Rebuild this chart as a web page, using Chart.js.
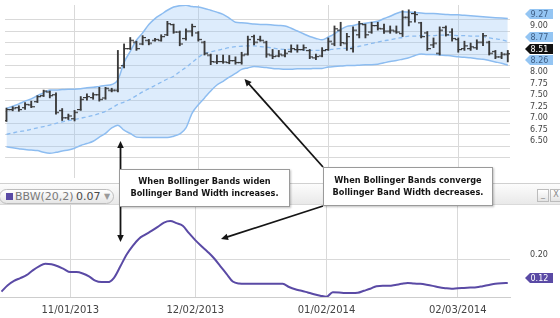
<!DOCTYPE html>
<html><head><meta charset="utf-8">
<script src="https://cdn.jsdelivr.net/npm/chart.js@4.4.0/dist/chart.umd.min.js"></script>
<style>
html,body{margin:0;padding:0;background:#fff;width:560px;height:318px;overflow:hidden;font-family:"DejaVu Sans",sans-serif;}
#topWrap{position:absolute;left:0;top:0;width:560px;height:183px;}
#botWrap{position:absolute;left:0;top:205px;width:560px;height:113px;}
#strip{position:absolute;left:0;top:183px;width:560px;background:linear-gradient(#fcfcfc,#e9e9e9);border-top:1px solid #d0d0d0;border-bottom:1px solid #dadada;box-sizing:border-box;height:22px;}
#pill{position:absolute;left:-1px;top:5px;width:113px;height:13px;border:1px solid #bdbdbd;border-radius:8px;background:linear-gradient(#ffffff,#e6e6e6);font-size:11px;line-height:13px;white-space:nowrap;}
#pill .sq{position:absolute;left:6px;top:3px;width:7px;height:7px;background:#5a4aa5;}
#pill .nm{position:absolute;left:15px;top:0;color:#7a7a7a;}
#pill .val{position:absolute;left:76px;top:0;color:#4a4a4a;}
#pill .dd{position:absolute;left:104px;top:0;color:#9a9a9a;font-size:8px;}
.btn{position:absolute;top:5px;width:10px;height:11px;border:1px solid #bcbcbc;background:linear-gradient(#fff,#e4e4e4);font-size:8px;line-height:10px;text-align:center;color:#888;}
.note{position:absolute;background:#fff;border:1px solid #9a9a9a;box-shadow:1px 1px 2px rgba(0,0,0,0.25);font-family:"DejaVu Sans",sans-serif;font-weight:bold;font-size:8.2px;line-height:12.5px;text-align:center;color:#151515;box-sizing:border-box;z-index:4;}
#arrows{position:absolute;left:0;top:0;z-index:6;}
</style>
</head><body>
<div id="topWrap"><canvas id="top" width="560" height="183"></canvas></div>
<div id="strip">
  <div id="pill"><span class="sq"></span><span class="nm">BBW(20,2)</span><span class="val">0.07</span><span class="dd">▼</span></div>
  <div class="btn" style="left:537px">_</div>
  <div class="btn" style="left:550px">X</div>
</div>
<div id="botWrap"><canvas id="bot" width="560" height="113"></canvas></div>
<div class="note" style="left:119px;top:169px;width:171px;height:38px;padding-top:4.5px;">When Bollinger Bands widen<br>Bollinger Band Width increases.</div>
<div class="note" style="left:323px;top:167px;width:170px;height:39px;padding-top:5.5px;">When Bollinger Bands converge<br>Bollinger Band Width decreases.</div>
<svg id="arrows" width="560" height="318"></svg>
<script>
// ---------- DATA ----------
const tradingDays = [
 '10/17/2013','10/18/2013','10/21/2013','10/22/2013','10/23/2013','10/24/2013','10/25/2013','10/28/2013','10/29/2013','10/30/2013','10/31/2013',
 '11/01/2013','11/04/2013','11/05/2013','11/06/2013','11/07/2013','11/08/2013','11/11/2013','11/12/2013','11/13/2013','11/14/2013','11/15/2013','11/18/2013','11/19/2013','11/20/2013','11/21/2013','11/22/2013','11/25/2013','11/26/2013','11/27/2013','11/29/2013',
 '12/02/2013','12/03/2013','12/04/2013','12/05/2013','12/06/2013','12/09/2013','12/10/2013','12/11/2013','12/12/2013','12/13/2013','12/16/2013','12/17/2013','12/18/2013','12/19/2013','12/20/2013','12/23/2013','12/24/2013','12/26/2013','12/27/2013','12/30/2013','12/31/2013',
 '01/02/2014','01/03/2014','01/06/2014','01/07/2014','01/08/2014','01/09/2014','01/10/2014','01/13/2014','01/14/2014','01/15/2014','01/16/2014','01/17/2014','01/21/2014','01/22/2014','01/23/2014','01/24/2014','01/27/2014','01/28/2014','01/29/2014','01/30/2014','01/31/2014',
 '02/03/2014','02/04/2014','02/05/2014','02/06/2014','02/07/2014','02/10/2014','02/11/2014','02/12/2014','02/13/2014'
];
const tickDates = ['11/01/2013','12/02/2013','01/02/2014','02/03/2014'];
const priceTicks = [6.25,6.50,6.75,7.00,7.25,7.50,7.75,8.00,8.25,8.50,8.75,9.00,9.25];
const bbwTicks = [0.20];

const opens = [7.06,7.30,7.34,7.34,7.40,7.47,7.60,7.68,7.62,7.28,7.12,7.10,7.30,7.56,7.56,7.62,7.55,7.72,7.72,8.25,
 8.62,8.76,8.72,8.80,8.80,8.80,8.92,9.14,8.98,8.84,9.00,8.96,8.76,8.48,8.33,8.34,8.32,8.36,8.32,8.50,
 8.88,8.82,8.76,8.48,8.46,8.48,8.56,8.60,8.60,8.58,8.42,8.46,8.60,8.72,9.02,8.74,8.62,8.92,9.14,8.98,
 9.12,9.05,9.00,9.00,8.95,9.30,9.38,9.18,8.96,8.70,8.52,9.08,8.98,8.82,8.62,8.62,8.64,8.76,8.76,8.56,8.44,8.50];
const highs = [7.33,7.36,7.38,7.45,7.48,7.60,7.72,7.70,7.66,7.32,7.20,7.28,7.58,7.64,7.66,7.78,7.78,7.76,8.58,8.72,
 8.86,8.78,8.90,8.82,8.84,8.92,9.21,9.15,9.00,9.05,9.15,8.99,8.78,8.50,8.48,8.48,8.47,8.44,8.54,8.89,
 8.91,8.89,8.78,8.60,8.58,8.60,8.70,8.70,8.70,8.60,8.50,8.64,8.85,9.11,9.19,8.95,9.09,9.21,9.15,9.19,
 9.19,9.15,9.11,9.11,9.44,9.46,9.42,9.19,8.99,8.85,9.09,9.11,9.05,8.85,8.78,8.74,8.81,8.95,8.78,8.58,8.54,8.58];
const lows = [7.04,7.27,7.26,7.30,7.34,7.45,7.58,7.55,7.20,7.06,7.08,7.05,7.28,7.50,7.52,7.48,7.52,7.68,7.68,8.20,
 8.60,8.58,8.70,8.70,8.78,8.78,8.90,8.95,8.68,8.80,8.89,8.78,8.48,8.27,8.29,8.30,8.29,8.28,8.28,8.48,
 8.70,8.78,8.43,8.40,8.44,8.44,8.54,8.54,8.58,8.40,8.38,8.44,8.58,8.68,8.68,8.58,8.54,8.85,8.85,8.95,
 9.02,8.95,8.95,8.95,8.88,9.11,9.19,8.85,8.58,8.64,8.48,8.89,8.78,8.54,8.58,8.58,8.60,8.68,8.48,8.40,8.40,8.33];
const closes = [7.30,7.33,7.30,7.41,7.36,7.58,7.70,7.60,7.24,7.12,7.16,7.24,7.52,7.58,7.62,7.52,7.76,7.72,8.20,8.62,
 8.80,8.62,8.86,8.74,8.82,8.88,9.16,8.98,8.72,9.00,9.10,8.82,8.52,8.34,8.34,8.33,8.36,8.32,8.48,8.82,
 8.76,8.80,8.50,8.45,8.50,8.52,8.62,8.60,8.64,8.44,8.45,8.58,8.78,9.05,8.75,8.88,9.02,9.16,8.92,9.12,
 9.06,9.00,9.02,8.98,9.30,9.20,9.36,8.88,8.62,8.74,9.02,8.92,8.84,8.60,8.68,8.66,8.76,8.90,8.52,8.44,8.50,8.51];

const upperBand = [7.32,7.37,7.42,7.48,7.53,7.60,7.66,7.72,7.72,7.73,7.74,7.74,7.75,7.77,7.78,7.80,7.82,7.84,7.94,8.32,
 8.56,8.80,8.96,9.14,9.27,9.36,9.45,9.52,9.55,9.56,9.53,9.52,9.49,9.45,9.41,9.36,9.28,9.19,9.18,9.17,
 9.15,9.14,9.14,9.13,9.12,9.11,9.06,9.00,8.94,8.88,8.84,8.81,8.87,8.94,9.03,9.10,9.12,9.15,9.17,9.19,
 9.21,9.27,9.32,9.38,9.42,9.41,9.40,9.39,9.38,9.38,9.37,9.36,9.35,9.35,9.34,9.33,9.32,9.31,9.30,9.29,9.28,9.27];
const middleBand = [6.76,6.79,6.82,6.84,6.87,6.90,6.93,6.96,7.00,7.03,7.06,7.08,7.11,7.14,7.17,7.21,7.26,7.33,7.41,7.46,
 7.52,7.60,7.68,7.75,7.82,7.89,7.96,8.02,8.12,8.21,8.32,8.43,8.51,8.55,8.58,8.61,8.64,8.66,8.67,8.68,
 8.68,8.66,8.65,8.63,8.61,8.60,8.60,8.59,8.59,8.58,8.58,8.58,8.59,8.61,8.62,8.63,8.65,8.67,8.70,8.73,
 8.76,8.79,8.81,8.84,8.86,8.89,8.89,8.90,8.90,8.90,8.91,8.91,8.91,8.90,8.90,8.89,8.89,8.88,8.85,8.83,8.81,8.77];
const lowerBand = [6.49,6.47,6.45,6.43,6.42,6.41,6.37,6.35,6.37,6.40,6.42,6.46,6.52,6.56,6.61,6.70,6.78,6.90,6.96,6.85,
 6.78,6.70,6.69,6.69,6.69,6.69,6.69,6.72,6.77,6.90,7.22,7.40,7.55,7.70,7.83,7.91,8.00,8.08,8.17,8.20,
 8.23,8.22,8.21,8.19,8.18,8.17,8.17,8.18,8.18,8.18,8.19,8.19,8.22,8.23,8.24,8.25,8.25,8.26,8.27,8.27,
 8.28,8.31,8.34,8.36,8.39,8.42,8.47,8.50,8.49,8.49,8.48,8.47,8.46,8.44,8.43,8.42,8.40,8.39,8.36,8.33,8.30,8.26];
const bbw = [0.090,0.112,0.127,0.137,0.147,0.164,0.178,0.187,0.185,0.178,0.168,0.158,0.158,0.153,0.143,0.128,0.123,0.123,0.138,0.177,
 0.218,0.249,0.274,0.288,0.301,0.315,0.330,0.335,0.328,0.319,0.293,0.269,0.248,0.228,0.206,0.179,0.152,0.125,0.118,0.117,
 0.117,0.117,0.117,0.117,0.117,0.117,0.106,0.098,0.093,0.087,0.081,0.076,0.072,0.088,0.087,0.085,0.085,0.086,0.093,0.100,
 0.109,0.110,0.110,0.113,0.117,0.120,0.118,0.117,0.114,0.110,0.105,0.102,0.100,0.102,0.103,0.104,0.105,0.109,0.113,0.117,0.119,0.120];

// ---------- HELPERS ----------
const FONT = 'DejaVu Sans';
const GRID = '#d9d9d9';
const xMin = -0.24, xMax = 81.36;
const tickIdx = tickDates.map(d => tradingDays.indexOf(d));
const last = a => a[a.length - 1];
const pts = arr => arr.map((v, i) => ({x: i, y: v}));

function tickImg(side) {
  const c = document.createElement('canvas'); c.width = 7; c.height = 3;
  const g = c.getContext('2d'); g.fillStyle = '#3a3a3a';
  if (side === 'L') g.fillRect(0, 1, 4, 1.2); else g.fillRect(3, 1, 4, 1.2);
  return c;
}

const tagPlugin = {
  id: 'valueTags',
  afterDraw(chart) {
    const items = chart.config.options.plugins.valueTags.items;
    const ys = chart.scales.y, ctx = chart.ctx;
    const x0 = chart.chartArea.right + 15, x1 = x0 + 5, x2 = x0 + 28;
    ctx.save();
    ctx.font = '8px "' + FONT + '"';
    ctx.textBaseline = 'middle'; ctx.textAlign = 'left';
    for (const t of items) {
      const py = Math.round(ys.getPixelForValue(t.value) - 5);
      ctx.beginPath();
      ctx.moveTo(x0, py); ctx.lineTo(x1, py - 5); ctx.lineTo(x2, py - 5);
      ctx.lineTo(x2, py + 5); ctx.lineTo(x1, py + 5); ctx.closePath();
      ctx.fillStyle = t.bg; ctx.fill();
      ctx.fillStyle = t.fg; ctx.fillText(t.value.toFixed(2), x1 + 0.5, py + 0.5);
    }
    ctx.restore();
  }
};

const common = {
  responsive: false, animation: false, devicePixelRatio: 1, events: [],
  layout: {padding: 0}
};

function xScale(extra) {
  return Object.assign({
    type: 'linear', min: xMin, max: xMax, offset: false,
    afterBuildTicks: ax => { ax.ticks = tickIdx.map(v => ({value: v})); },
    grid: {color: GRID, drawTicks: false, offset: false}
  }, extra);
}

// ---------- TOP CHART ----------
new Chart(document.getElementById('top'), {
  type: 'line',
  data: {datasets: [
    {label: 'Upper', data: pts(upperBand), borderColor: '#8cbcf0', borderWidth: 1.5, pointRadius: 0,
     fill: '+1', backgroundColor: 'rgba(150,195,245,0.32)', cubicInterpolationMode: 'monotone', order: 5},
    {label: 'Lower', data: pts(lowerBand), borderColor: '#8cbcf0', borderWidth: 1.5, pointRadius: 0,
     fill: false, cubicInterpolationMode: 'monotone', order: 5},
    {label: 'Middle', data: pts(middleBand), borderColor: '#8cbcf0', borderWidth: 1.3, borderDash: [4, 3], pointRadius: 0,
     fill: false, cubicInterpolationMode: 'monotone', order: 4},
    {type: 'bar', label: 'Range', data: highs.map((h, i) => ({x: i, y: [lows[i], h]})),
     backgroundColor: '#3a3a3a', barThickness: 1.2, order: 1},
    {label: 'Open', data: pts(opens), showLine: false, pointStyle: tickImg('L'), pointRadius: 2, order: 0},
    {label: 'Close', data: pts(closes), showLine: false, pointStyle: tickImg('R'), pointRadius: 2, order: 0}
  ]},
  options: Object.assign({}, common, {
    plugins: {legend: {display: false}, tooltip: {enabled: false},
      valueTags: {items: [
        {value: last(upperBand), bg: '#94c5f3', fg: '#3f5f86'},
        {value: last(middleBand), bg: '#94c5f3', fg: '#3f5f86'},
        {value: last(closes), bg: '#111', fg: '#fff'},
        {value: last(lowerBand), bg: '#94c5f3', fg: '#3f5f86'}
      ]}},
    scales: {
      x: xScale({
        afterFit: ax => { ax.height = 0; ax.paddingLeft = 0; ax.paddingRight = 0; },
        border: {display: false}, ticks: {display: false}}),
      y: {type: 'linear', position: 'right', min: 5.814, max: 9.564, beginAtZero: false,
        afterBuildTicks: ax => { ax.ticks = priceTicks.map(v => ({value: v})); },
        afterFit: ax => { ax.width = 50; ax.paddingTop = 0; ax.paddingBottom = 0; },
        grid: {color: GRID, drawTicks: false}, border: {display: false},
        ticks: {padding: 20, labelOffset: -5, color: '#444', font: {family: FONT, size: 8},
          callback: v => v < 6.5 ? '' : v.toFixed(2)}}
    }
  }),
  plugins: [tagPlugin]
});

// ---------- BOTTOM CHART ----------
new Chart(document.getElementById('bot'), {
  type: 'line',
  data: {datasets: [
    {label: 'BBW(20,2)', data: pts(bbw), borderColor: '#5a4aa5', borderWidth: 2, pointRadius: 0,
     fill: false, cubicInterpolationMode: 'monotone'}
  ]},
  options: Object.assign({}, common, {
    plugins: {legend: {display: false}, tooltip: {enabled: false},
      valueTags: {items: [{value: last(bbw), bg: '#5a4aa5', fg: '#fff'}]}},
    scales: {
      x: xScale({
        afterFit: ax => { ax.height = 21; ax.paddingLeft = 0; ax.paddingRight = 0; },
        border: {display: true, color: '#cdcdcd'},
        ticks: {padding: 7, color: '#444', font: {family: FONT, size: 10}, maxRotation: 0, autoSkip: false,
          callback: v => tradingDays[v]}}),
      y: {type: 'linear', position: 'right', min: 0.0713, max: 0.391,
        afterBuildTicks: ax => { ax.ticks = bbwTicks.map(v => ({value: v})); },
        afterFit: ax => { ax.width = 50; ax.paddingTop = 0; ax.paddingBottom = 0; },
        grid: {color: GRID, drawTicks: false}, border: {display: false},
        ticks: {padding: 20, labelOffset: -5, color: '#444', font: {family: FONT, size: 8},
          callback: v => v.toFixed(2)}}
    }
  }),
  plugins: [tagPlugin]
});

// ---------- ANNOTATION ARROWS ----------
const arrows = [
  {from: [120.5, 169], to: [120.5, 141]},
  {from: [120.5, 207], to: [120.5, 242]},
  {from: [323, 167], to: [244.5, 79]},
  {from: [323, 206], to: [221, 239]}
];
const svg = document.getElementById('arrows');
let html = '';
for (const a of arrows) {
  const [x1, y1] = a.from, [x2, y2] = a.to;
  const dx = x2 - x1, dy = y2 - y1, L = Math.hypot(dx, dy), ux = dx / L, uy = dy / L;
  const hl = 7, hw = 3.3;
  const bx = x2 - ux * hl, by = y2 - uy * hl;
  html += `<line x1="${x1}" y1="${y1}" x2="${bx + ux}" y2="${by + uy}" stroke="#151515" stroke-width="1.8"/>`;
  html += `<polygon points="${x2},${y2} ${bx - uy * hw},${by + ux * hw} ${bx + uy * hw},${by - ux * hw}" fill="#151515"/>`;
}
svg.innerHTML = html;
</script>
</body></html>
